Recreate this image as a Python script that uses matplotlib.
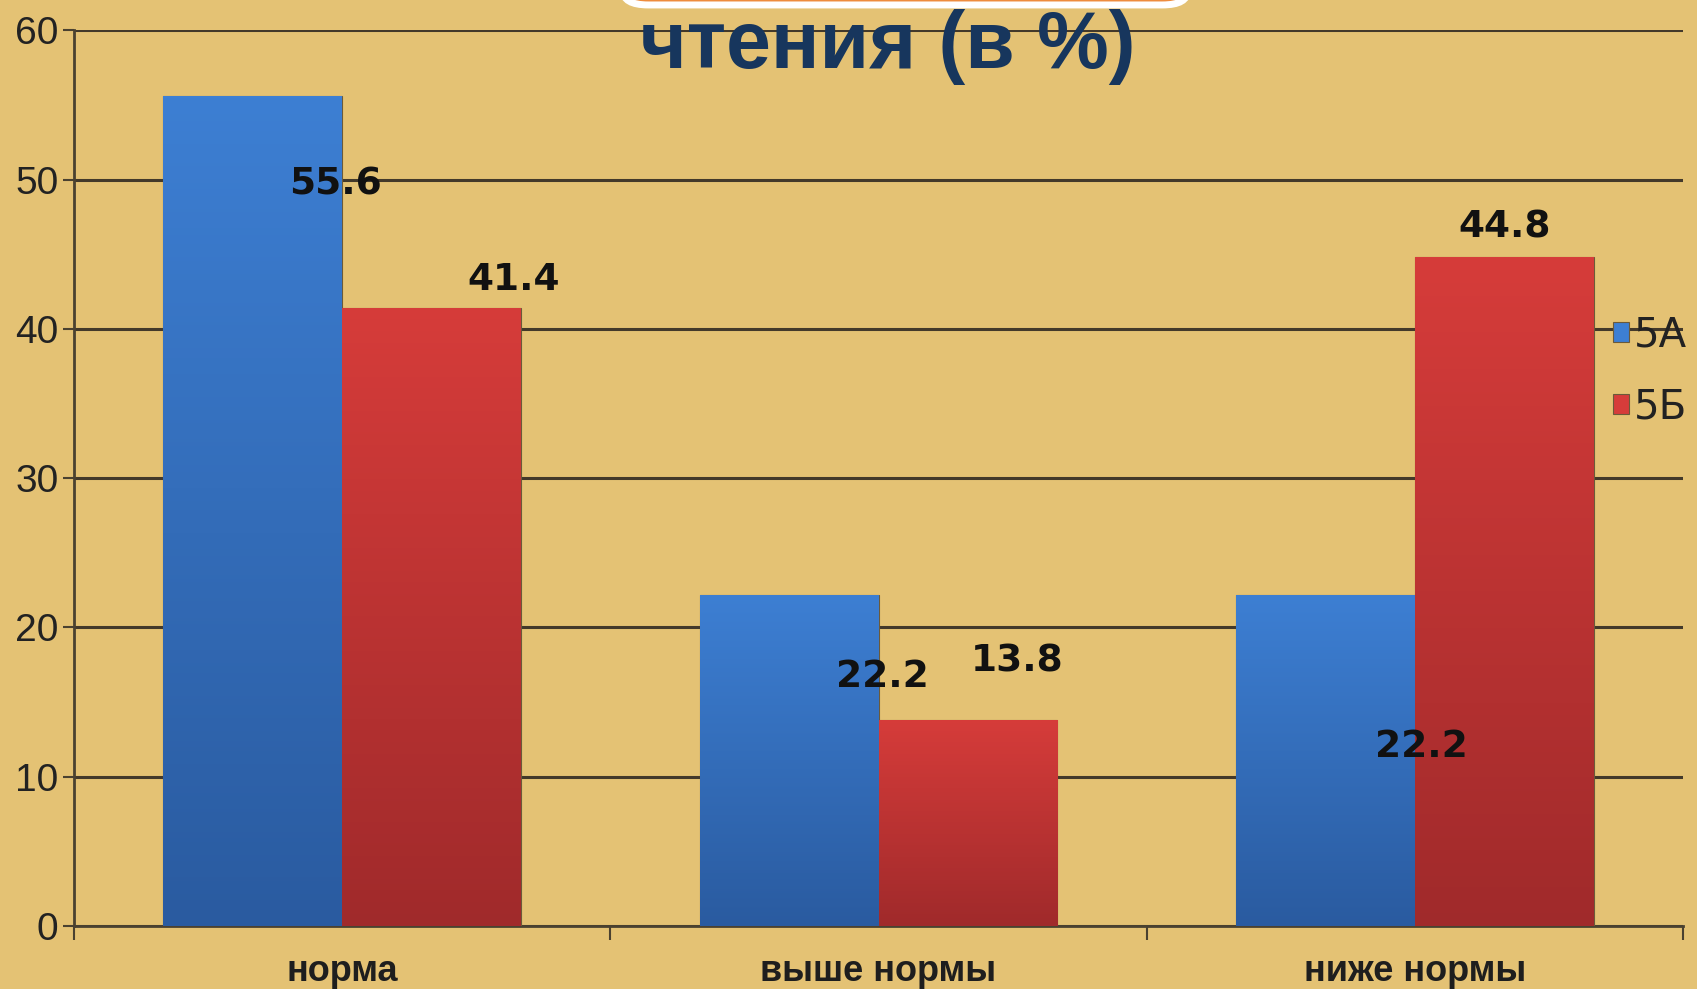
import numpy as np
import matplotlib.pyplot as plt
from matplotlib.patches import FancyBboxPatch

# Данные
categories = ['норма', 'выше нормы', 'ниже нормы']
series_names = ['5А', '5Б']
vals_5a = [55.6, 22.2, 22.2]
vals_5b = [41.4, 13.8, 44.8]
y_ticks = [0, 10, 20, 30, 40, 50, 60]
title_text = 'чтения (в %)'

# смещения подписей (как в исходной диаграмме)
lab_dx_a = [0.155, 0.173, 0.179]
lab_dy_a = [-5.9, -5.5, -10.2]
lab_dx_b = [0.153, 0.092, 0.0]
lab_dy_b = [1.9, 3.9, 2.0]

fig = plt.figure(figsize=(16.97, 9.89), dpi=100)
fig.patch.set_facecolor('#E4C274')
ax = fig.add_axes([0.0434, 0.0637, 0.9486, 0.9057])
ax.set_facecolor('none')

x = np.arange(len(categories))
w = 1 / 3


def gradient_bars(xpos, vals, top_col, bot_col, name):
    bars = ax.bar(xpos, vals, width=w, color=top_col, edgecolor='#6b5a3a',
                  linewidth=0.8, label=name, zorder=3)
    grad = np.linspace(0, 1, 256).reshape(-1, 1)
    c1 = np.array(plt.matplotlib.colors.to_rgb(top_col))
    c2 = np.array(plt.matplotlib.colors.to_rgb(bot_col))
    img = c1[None, None, :] * (1 - grad[:, :, None]) + c2[None, None, :] * grad[:, :, None]
    for b in bars:
        x0, y0 = b.get_x(), b.get_y()
        im = ax.imshow(img, extent=[x0, x0 + b.get_width(), y0, y0 + b.get_height()],
                       origin='upper', aspect='auto', zorder=3.5)
        im.set_clip_path(b)
    return bars


gradient_bars(x - w / 2, vals_5a, '#3D7FD3', '#2A5BA0', series_names[0])
gradient_bars(x + w / 2, vals_5b, '#D63C3A', '#A02A2B', series_names[1])

for i in range(len(categories)):
    ax.text(x[i] - w / 2 + lab_dx_a[i], vals_5a[i] + lab_dy_a[i], f'{vals_5a[i]:.1f}',
            ha='center', va='center', fontsize=27, fontweight='bold', color='#111111', zorder=5)
    ax.text(x[i] + w / 2 + lab_dx_b[i], vals_5b[i] + lab_dy_b[i], f'{vals_5b[i]:.1f}',
            ha='center', va='center', fontsize=27, fontweight='bold', color='#111111', zorder=5)

ax.set_xlim(-0.5, len(categories) - 0.5)
ax.set_ylim(0, 60)
ax.set_yticks(y_ticks)
ax.set_yticklabels([str(t) for t in y_ticks], fontsize=28, color='#222222',
                   family='Liberation Sans')
ax.yaxis.grid(True, color='#43392a', linewidth=2.2)
ax.set_axisbelow(True)
ax.set_xticks(x)
ax.set_xticklabels(categories, fontsize=26, fontweight='bold', color='#1e1e1e',
                   family='Liberation Sans')
ax.set_xticks(np.arange(-0.5, len(categories)), minor=True)
ax.tick_params(axis='x', which='major', length=0, pad=20)
ax.tick_params(axis='x', which='minor', length=10, width=1.5, color='#4a4130')
ax.tick_params(axis='y', length=8, width=1.5, color='#4a4130', pad=3)
for s in ['top', 'right']:
    ax.spines[s].set_visible(False)
for s in ['left', 'bottom']:
    ax.spines[s].set_color('#4a4130')
    ax.spines[s].set_linewidth(2)

leg = ax.legend(loc='upper left', bbox_to_anchor=(0.946, 0.70), frameon=False,
                fontsize=29, handlelength=0.4, handleheight=0.4, handletextpad=0.12,
                labelspacing=0.8, borderaxespad=0)
for t in leg.get_texts():
    t.set_color('#222222')

# рамка заголовка (обрезана сверху)
box = FancyBboxPatch((0.367, 0.995), 0.333, 0.08, boxstyle='round,pad=0,rounding_size=0.015',
                     transform=fig.transFigure, facecolor='#EE8C3E', edgecolor='white',
                     linewidth=5, zorder=6)
fig.patches.append(box)
fig.text(0.523, 0.931, title_text, ha='center', va='baseline', fontsize=58,
         fontweight='bold', color='#17365D', family='Liberation Sans', zorder=7)

fig.savefig('out.png', dpi=100, facecolor=fig.get_facecolor())
